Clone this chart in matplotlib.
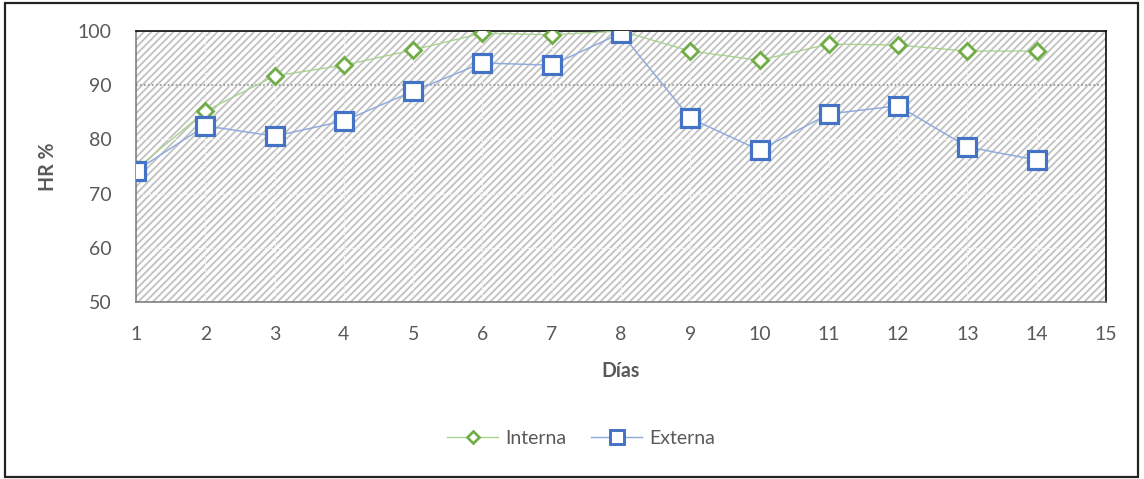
import matplotlib
matplotlib.use("Agg")
import matplotlib.pyplot as plt
from matplotlib.patches import Rectangle
from matplotlib.lines import Line2D

# Relative humidity by day
dias = [1, 2, 3, 4, 5, 6, 7, 8, 9, 10, 11, 12, 13, 14]
interna = [74.5, 85.2, 91.7, 93.7, 96.5, 99.6, 99.3, 100.0, 96.3, 94.6, 97.6, 97.4, 96.3, 96.3]
externa = [74.2, 82.5, 80.6, 83.4, 88.9, 94.1, 93.7, 99.6, 83.9, 78.0, 84.7, 86.2, 78.6, 76.2]
x_ticks = list(range(1, 16))
y_ticks = [50, 60, 70, 80, 90, 100]

DPI = 88
W, H = 1144, 479
PT = 72.0 / DPI  # points per pixel
FS = 19.5 * PT

plt.rcParams["font.family"] = ["Lato", "DejaVu Sans"]
plt.rcParams["hatch.linewidth"] = 1.5

fig = plt.figure(figsize=(W / DPI, H / DPI), dpi=DPI)
fig.patch.set_facecolor("white")

# outer chart frame
fig.add_artist(Rectangle((5 / W, 2 / H), 1133 / W, 474 / H, transform=fig.transFigure,
                         fill=False, edgecolor="#222222", linewidth=2.2 * PT))

left, right, top, bottom = 136, 1106, 31, 302
ax = fig.add_axes([left / W, 1 - bottom / H, (right - left) / W, (bottom - top) / H])
ax.set_facecolor("white")

# striped plot-area fill
ax.add_patch(Rectangle((0, 0), 1, 1, transform=ax.transAxes, facecolor="white",
                       edgecolor="#c2c2c2", hatch="////", linewidth=0, zorder=0.1))

ax.set_xlim(1, 15)
ax.set_ylim(50, 100)
ax.set_xticks(x_ticks)
ax.set_yticks(y_ticks)

# faint grid, with the 90 and 100 lines dotted darker
for xv in x_ticks[1:-1]:
    ax.axvline(xv, color="#f0f0f0", linewidth=1.0, linestyle=(0, (3, 2)), zorder=0.5)
for yv in y_ticks[1:-1]:
    ax.axhline(yv, color="#f0f0f0", linewidth=1.0, linestyle=(0, (3, 2)), zorder=0.5)
ax.axhline(90, color="#8c8c8c", linewidth=1.3, linestyle=(0, (1, 1.5)), zorder=0.6)
ax.axhline(100, color="#8c8c8c", linewidth=1.3, linestyle=(0, (1, 1.5)), zorder=0.6)

ax.plot(dias, interna, color="#a9d18e", linewidth=1.1, marker="D",
        markersize=9.5, markerfacecolor="white", markeredgecolor="#70ad47",
        markeredgewidth=2.3, zorder=3, label="Interna")
ax.plot(dias, externa, color="#8faadc", linewidth=1.2, marker="s",
        markersize=14.5, markerfacecolor="white", markeredgecolor="#4472c4",
        markeredgewidth=2.6, zorder=4, label="Externa")

for side in ("left", "bottom"):
    ax.spines[side].set_color("#7a7a7a")
    ax.spines[side].set_linewidth(1.3)
for side in ("top", "right"):
    ax.spines[side].set_color("#111111")
    ax.spines[side].set_linewidth(1.4)

ax.tick_params(length=0, labelsize=FS, labelcolor="#595959", pad=20)
ax.tick_params(axis="y", pad=20)
ax.set_xlabel("Días", fontsize=FS, fontweight="bold", color="#595959", labelpad=14)
ax.set_ylabel("HR %", fontsize=FS, fontweight="bold", color="#595959", labelpad=16)

handles = [
    Line2D([], [], color="#a9d18e", linewidth=1.1, marker="D", markersize=7.5,
           markerfacecolor="white", markeredgecolor="#70ad47", markeredgewidth=2.2),
    Line2D([], [], color="#8faadc", linewidth=1.2, marker="s", markersize=11,
           markerfacecolor="white", markeredgecolor="#4472c4", markeredgewidth=2.4),
]
fig.legend(handles, ["Interna", "Externa"], loc="center", bbox_to_anchor=(0.508, 1 - 438 / H),
           ncol=2, frameon=False, fontsize=FS, labelcolor="#595959",
           handlelength=2.6, handletextpad=0.35, columnspacing=1.3)

fig.savefig("out.png", dpi=DPI, facecolor="white")
